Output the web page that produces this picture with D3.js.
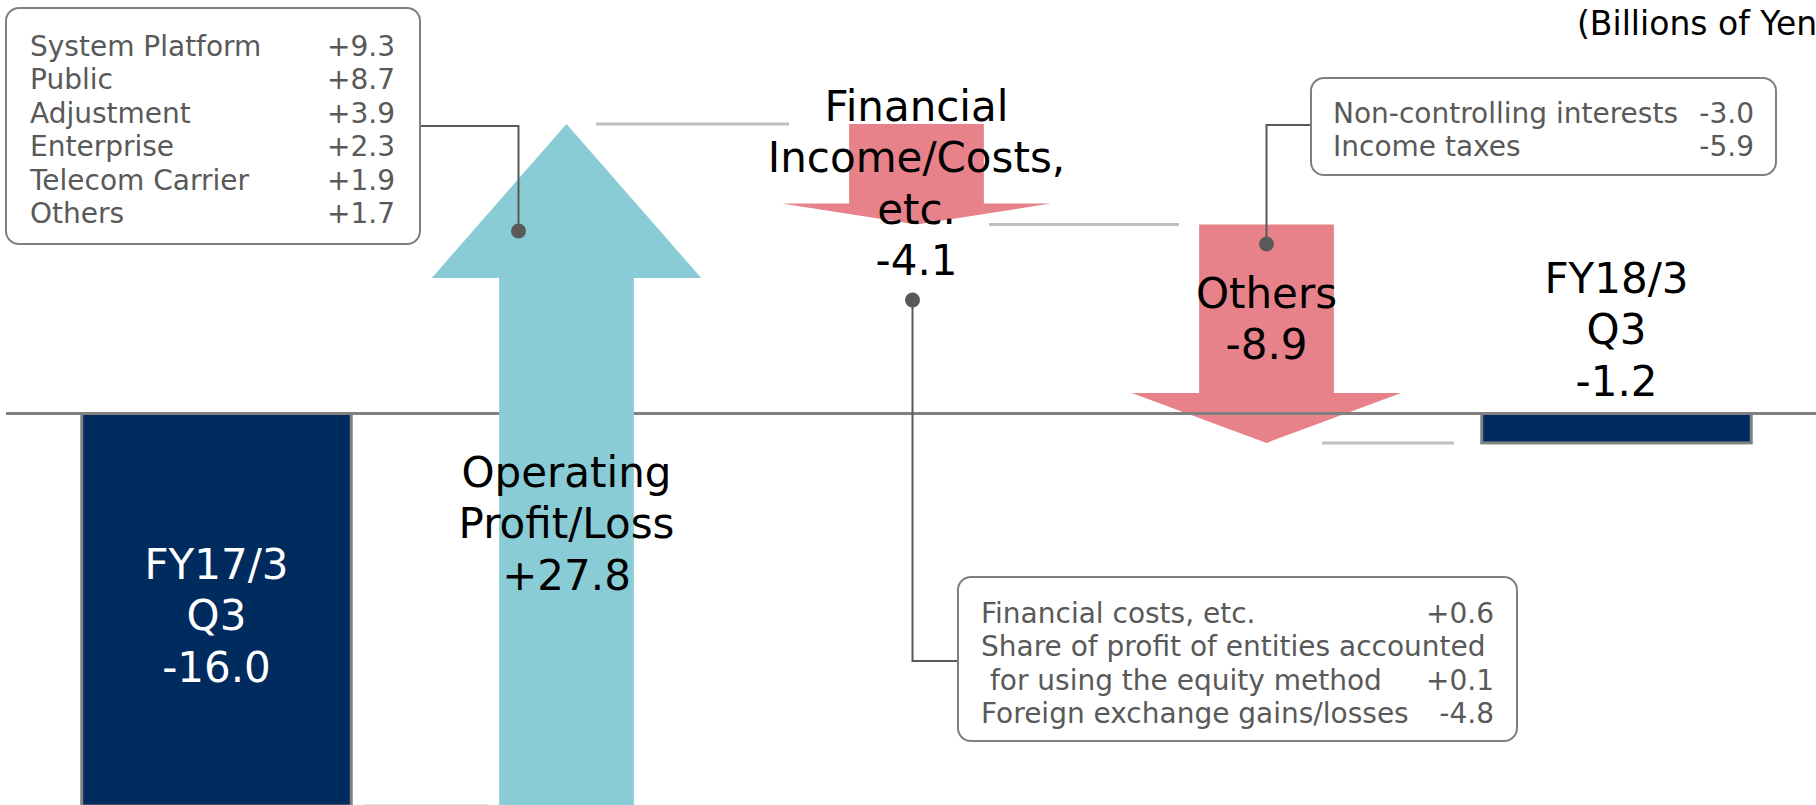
<!DOCTYPE html>
<html>
<head>
<meta charset="utf-8">
<script src="https://cdn.jsdelivr.net/npm/d3@7"></script>
<style>
  html, body { margin: 0; padding: 0; background: #fff; overflow: hidden; }
  svg { display: block; font-family: "DejaVu Sans", Verdana, sans-serif; }
</style>
</head>
<body>
<svg id="chart" width="1816" height="805"></svg>
<script>
// waterfall steps (billions of yen)
var steps = ["FY17/3 Q3", "Operating Profit/Loss", "Financial Income/Costs, etc.", "Others", "FY18/3 Q3"];
var stepTypes = ["total", "delta", "delta", "delta", "total"];
var stepValues = [-16.0, 27.8, -4.1, -8.9, -1.2];
var stepLabels = [
    ["FY17/3", "Q3", "-16.0"],
    ["Operating", "Profit/Loss", "+27.8"],
    ["Financial", "Income/Costs,", "etc.", "-4.1"],
    ["Others", "-8.9"],
    ["FY18/3", "Q3", "-1.2"]
];

// breakdown boxes
var opItems = ["System Platform", "Public", "Adjustment", "Enterprise", "Telecom Carrier", "Others"];
var opValues = ["+9.3", "+8.7", "+3.9", "+2.3", "+1.9", "+1.7"];
var finItems = ["Financial costs, etc.", "Share of profit of entities accounted", " for using the equity method", "Foreign exchange gains/losses"];
var finValues = ["+0.6", "", "+0.1", "-4.8"];
var othItems = ["Non-controlling interests", "Income taxes"];
var othValues = ["-3.0", "-5.9"];

var unitText = "(Billions of Yen)";

// ---- layout / style (not data) ----
var NAVY = "#002b5f", TEAL = "#8accd5", PINK = "#e8828a";
var labelTop = [579, 487, 121, 308, 293];     // baseline of first label line
var labelColor = ["#fff", "#000", "#000", "#000", "#000"];
var headH = [0, 154, 21, 50, 0];
var connOffsets = [[146.5, -77.5], [29.5, -127.5], [72.5, -87.5], [55.5, -162.5]];

var svg = d3.select("#chart");

var x = d3.scaleBand()
    .domain(steps)
    .range([41.5, 1791.5])
    .paddingInner(0.23)
    .paddingOuter(0.115);
var y = d3.scaleLinear().domain([-16, 11.8]).range([806, 124]);

// running totals
var rows = [];
var level = 0;
steps.forEach(function(s, i) {
    var start, end;
    if (stepTypes[i] === "total") { start = 0; end = stepValues[i]; }
    else { start = level; end = level + stepValues[i]; }
    level = end;
    rows.push({ name: s, i: i, type: stepTypes[i], start: start, end: end, v: stepValues[i] });
});

function cx(d) { return x(d.name) + x.bandwidth() / 2; }

function arrowPath(d) {
    var c = cx(d), sw = x.bandwidth() / 2, hw = x.bandwidth();
    var y0 = y(d.start), y1 = y(d.end);
    var dir = y1 < y0 ? -1 : 1;
    var yb = y1 - dir * headH[d.i];
    var p = d3.path();
    p.moveTo(c - sw / 2, y0);
    p.lineTo(c - sw / 2, yb);
    p.lineTo(c - hw / 2, yb);
    p.lineTo(c, y1);
    p.lineTo(c + hw / 2, yb);
    p.lineTo(c + sw / 2, yb);
    p.lineTo(c + sw / 2, y0);
    p.closePath();
    return p.toString();
}

var deltas = rows.filter(function(d) { return d.type === "delta"; });

// connectors between steps
var gConn = svg.append("g");
rows.slice(0, -1).forEach(function(d, i) {
    var next = rows[i + 1];
    gConn.append("line")
        .attr("x1", cx(d) + connOffsets[i][0])
        .attr("x2", cx(next) + connOffsets[i][1])
        .attr("y1", y(d.end))
        .attr("y2", y(d.end))
        .attr("stroke", "#bfbfbf")
        .attr("stroke-width", 3);
});

// negative arrows sit under the zero line
svg.append("g").selectAll("path")
    .data(deltas.filter(function(d) { return d.v < 0; }))
    .join("path")
    .attr("d", arrowPath)
    .attr("fill", PINK);

svg.append("line")
    .attr("x1", 6).attr("x2", 1816)
    .attr("y1", y(0)).attr("y2", y(0))
    .attr("stroke", "#808080")
    .attr("stroke-width", 3);

svg.append("g").selectAll("path")
    .data(deltas.filter(function(d) { return d.v >= 0; }))
    .join("path")
    .attr("d", arrowPath)
    .attr("fill", TEAL);

// totals
svg.append("g").selectAll("rect")
    .data(rows.filter(function(d) { return d.type === "total"; }))
    .join("rect")
    .attr("x", function(d) { return x(d.name); })
    .attr("width", x.bandwidth())
    .attr("y", function(d) { return y(Math.max(d.start, d.end)); })
    .attr("height", function(d) { return Math.abs(y(d.start) - y(d.end)); })
    .attr("fill", NAVY)
    .attr("stroke", "#808080")
    .attr("stroke-width", 3);

// callout lines + dots
var callouts = [
    { pts: [[420, 126], [cx(rows[1]) - 48, 126], [cx(rows[1]) - 48, 231]], dot: [cx(rows[1]) - 48, 231] },
    { pts: [[cx(rows[2]) - 4, 300], [cx(rows[2]) - 4, 661], [958, 661]], dot: [cx(rows[2]) - 4, 300] },
    { pts: [[1311, 125], [cx(rows[3]), 125], [cx(rows[3]), 244]], dot: [cx(rows[3]), 244] }
];
var gCall = svg.append("g");
callouts.forEach(function(c) {
    gCall.append("path")
        .attr("d", d3.line()(c.pts))
        .attr("fill", "none")
        .attr("stroke", "#595959")
        .attr("stroke-width", 2);
    gCall.append("circle")
        .attr("cx", c.dot[0]).attr("cy", c.dot[1]).attr("r", 7.5)
        .attr("fill", "#595959");
});

// breakdown boxes
function drawBox(bx, by, bw, bh, items, values, tx, vx, ty) {
    var g = svg.append("g");
    g.append("rect")
        .attr("x", bx).attr("y", by).attr("width", bw).attr("height", bh)
        .attr("rx", 13).attr("ry", 13)
        .attr("fill", "#fff")
        .attr("stroke", "#7f7f7f")
        .attr("stroke-width", 2);
    items.forEach(function(t, i) {
        g.append("text")
            .attr("x", tx).attr("y", ty + i * 33.4)
            .attr("xml:space", "preserve")
            .style("white-space", "pre")
            .attr("font-size", 28)
            .attr("fill", "#595959")
            .text(t);
        if (values[i]) {
            g.append("text")
                .attr("x", vx).attr("y", ty + i * 33.4)
                .attr("text-anchor", "end")
                .attr("font-size", 28)
                .attr("fill", "#595959")
                .text(values[i]);
        }
    });
}
drawBox(6, 8, 414, 236, opItems, opValues, 30, 395, 56);
drawBox(1311, 78, 465, 97, othItems, othValues, 1333, 1754, 123);
drawBox(958, 577, 559, 164, finItems, finValues, 981, 1494, 623);

// step labels
var gLab = svg.append("g").attr("text-anchor", "middle").attr("font-size", 42);
rows.forEach(function(d) {
    stepLabels[d.i].forEach(function(t, j) {
        gLab.append("text")
            .attr("x", cx(d))
            .attr("y", labelTop[d.i] + j * 51.3)
            .attr("fill", labelColor[d.i])
            .text(t);
    });
});

svg.append("text")
    .attr("x", 1577).attr("y", 35)
    .attr("font-size", 33)
    .attr("fill", "#000")
    .text(unitText);
</script>
</body>
</html>
